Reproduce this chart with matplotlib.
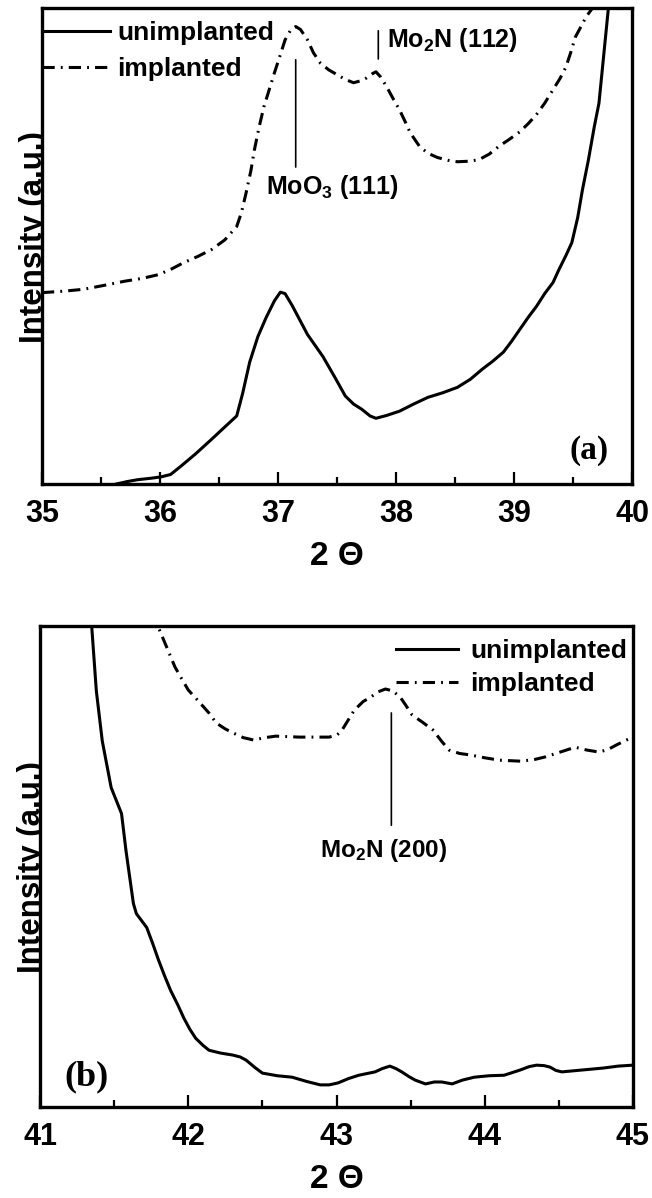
import matplotlib
matplotlib.use('Agg')
import matplotlib.pyplot as plt
from matplotlib.ticker import MultipleLocator

plt.rcParams['font.family'] = ['Liberation Sans', 'DejaVu Sans']
plt.rcParams['mathtext.fontset'] = 'custom'
plt.rcParams['mathtext.rm'] = 'Liberation Sans:bold'
plt.rcParams['mathtext.it'] = 'Liberation Sans:bold'
plt.rcParams['mathtext.bf'] = 'Liberation Sans:bold'

# --- data (intensity in arbitrary units, 0-100 of the frame) ---
# panel (a)
a_unimp_x = [35.63, 35.72, 35.81, 35.92, 36.01, 36.09, 36.18, 36.30, 36.42, 36.55,
             36.65, 36.70, 36.76, 36.83, 36.90, 36.97, 37.02, 37.06, 37.12, 37.25,
             37.38, 37.48, 37.57, 37.64, 37.71, 37.78, 37.83, 37.92, 38.03, 38.15,
             38.27, 38.40, 38.52, 38.63, 38.73, 38.82, 38.91, 38.98, 39.05, 39.12,
             39.19, 39.26, 39.33, 39.38, 39.44, 39.49, 39.54, 39.58, 39.63, 39.68,
             39.72, 39.76, 39.80, 39.81]
a_unimp_y = [0.0, 0.5, 0.9, 1.2, 1.5, 2.0, 3.8, 6.3, 9.0, 12.0,
             14.3, 19.0, 25.6, 31.0, 35.0, 38.5, 40.3, 40.0, 37.5, 31.4,
             26.8, 22.5, 18.5, 16.8, 15.7, 14.3, 13.8, 14.4, 15.3, 16.8,
             18.2, 19.2, 20.3, 22.0, 24.1, 25.8, 27.7, 30.0, 32.5, 35.0,
             37.3, 40.0, 42.3, 45.0, 48.0, 50.7, 56.0, 61.8, 68.0, 75.0,
             80.0, 90.0, 100.0, 103.0]

a_imp_x = [35.00, 35.18, 35.35, 35.52, 35.70, 35.85, 35.99, 36.10, 36.20, 36.32,
           36.44, 36.55, 36.65, 36.69, 36.73, 36.77, 36.80, 36.84, 36.88, 36.93,
           36.97, 37.02, 37.06, 37.11, 37.15, 37.19, 37.25, 37.30, 37.36, 37.43,
           37.50, 37.57, 37.64, 37.70, 37.75, 37.80, 37.83, 37.87, 37.92, 37.97,
           38.03, 38.08, 38.12, 38.20, 38.27, 38.35, 38.44, 38.52, 38.61, 38.70,
           38.79, 38.87, 38.96, 39.05, 39.12, 39.19, 39.26, 39.33, 39.39, 39.44,
           39.48, 39.52, 39.57, 39.61, 39.68, 39.70]
a_imp_y = [40.2, 40.5, 40.9, 41.7, 42.6, 43.2, 44.0, 45.2, 46.5, 47.8,
           49.3, 51.3, 54.1, 57.0, 61.2, 65.8, 70.2, 75.0, 79.2, 83.2,
           86.4, 90.2, 93.3, 95.5, 96.1, 95.5, 93.3, 90.6, 88.4, 87.0,
           86.0, 85.0, 84.3, 84.7, 85.3, 86.2, 86.6, 85.5, 83.5, 81.2,
           78.6, 76.0, 73.8, 70.9, 69.5, 68.6, 68.0, 67.7, 67.8, 68.1,
           69.3, 70.9, 72.4, 74.0, 75.7, 77.6, 80.0, 82.8, 85.2, 87.6,
           90.6, 93.9, 96.2, 98.1, 100.5, 103.0]

# panel (b)
b_unimp_x = [41.34, 41.35, 41.38, 41.42, 41.48, 41.55, 41.58, 41.63, 41.65, 41.72,
             41.76, 41.80, 41.84, 41.88, 41.93, 41.97, 42.01, 42.05, 42.10, 42.14,
             42.22, 42.30, 42.35, 42.39, 42.45, 42.50, 42.60, 42.70, 42.80, 42.89,
             42.95, 43.01, 43.08, 43.15, 43.26, 43.31, 43.36, 43.40, 43.44, 43.49,
             43.53, 43.60, 43.66, 43.71, 43.78, 43.85, 43.93, 44.03, 44.13, 44.24,
             44.30, 44.35, 44.40, 44.44, 44.48, 44.52, 44.59, 44.66, 44.80, 44.90,
             45.00]
b_unimp_y = [103.0, 99.4, 86.5, 76.1, 66.4, 61.0, 53.3, 42.3, 40.2, 37.3,
             34.0, 30.5, 27.3, 24.3, 21.2, 18.5, 16.2, 14.3, 12.8, 11.8,
             11.2, 10.8, 10.4, 9.75, 8.2, 7.05, 6.5, 6.2, 5.3, 4.6,
             4.6, 5.0, 5.9, 6.6, 7.3, 8.0, 8.5, 8.0, 7.3, 6.3,
             5.6, 4.8, 5.2, 5.2, 4.8, 5.6, 6.2, 6.5, 6.6, 7.7,
             8.4, 8.7, 8.6, 8.3, 7.6, 7.3, 7.5, 7.7, 8.1, 8.5,
             8.7]

b_imp_x = [41.78, 41.80, 41.86, 41.91, 41.96, 42.00, 42.08, 42.14, 42.19, 42.25,
           42.30, 42.37, 42.44, 42.52, 42.59, 42.67, 42.75, 42.85, 42.95, 43.00,
           43.03, 43.08, 43.12, 43.18, 43.23, 43.28, 43.33, 43.38, 43.43, 43.47,
           43.51, 43.58, 43.65, 43.71, 43.76, 43.83, 43.90, 44.00, 44.10, 44.24,
           44.33, 44.41, 44.51, 44.61, 44.69, 44.77, 44.83, 44.89, 44.97, 45.00]
b_imp_y = [103.0, 99.6, 95.2, 91.5, 88.8, 86.7, 84.0, 81.9, 79.8, 78.6,
           77.8, 76.8, 76.3, 76.8, 77.1, 77.0, 76.9, 76.9, 76.9, 77.3,
           78.0, 80.5, 82.5, 84.3, 85.2, 86.3, 86.9, 86.5, 85.2, 83.4,
           81.5, 80.0, 78.4, 76.0, 74.2, 73.5, 73.2, 72.6, 72.1, 71.9,
           72.2, 72.8, 73.8, 74.8, 74.2, 73.8, 74.3, 75.3, 76.5, 77.0]

a_ticks = [35, 36, 37, 38, 39, 40]
b_ticks = [41, 42, 43, 44, 45]

DASHDOT = (0, (4, 2, 0.6, 2))
LW = 2.2


def style_axis(ax, xlim, ticks):
    ax.set_xlim(*xlim)
    ax.set_ylim(0, 100)
    ax.set_xticks(ticks)
    ax.xaxis.set_minor_locator(MultipleLocator(0.5))
    ax.set_yticks([])
    for sp in ax.spines.values():
        sp.set_linewidth(2.4)
    ax.tick_params(axis='x', which='major', direction='in', length=8.6, width=1.6,
                   labelsize=22, pad=10.5, top=False)
    ax.tick_params(axis='x', which='minor', direction='in', length=5, width=1.6, top=False)
    for lab in ax.get_xticklabels():
        lab.set_fontweight('bold')
    ax.set_xlabel('2 \u0398', fontsize=24, fontweight='bold', labelpad=9)


fig = plt.figure(figsize=(6.52, 11.98), dpi=100)
line_kw = dict(color='black', lw=LW, solid_joinstyle='round', dash_joinstyle='round')

# ---------- (a) ----------
ax1 = fig.add_axes([42 / 652, 1 - 484 / 1198, 590 / 652, 476 / 1198])
ax1.plot(a_unimp_x, a_unimp_y, label='unimplanted', **line_kw)
ax1.plot(a_imp_x, a_imp_y, linestyle=DASHDOT, label='implanted', **line_kw)
style_axis(ax1, (35, 40), a_ticks)
ax1.legend(loc='upper left', bbox_to_anchor=(0.0, 0.972), frameon=False,
           prop={'size': 19, 'weight': 'bold'}, borderpad=0, borderaxespad=0,
           handlelength=2.58, handletextpad=0.27, labelspacing=0.45)
ax1.annotate('', xy=(37.15, 89.7), xytext=(37.15, 66.0),
             arrowprops=dict(arrowstyle='-', lw=1.2, color='black'))
ax1.text(36.90, 62.4, r'MoO$_3$ (111)', fontsize=18, fontweight='bold', ha='left', va='center')
ax1.annotate('', xy=(37.85, 95.8), xytext=(37.85, 88.7),
             arrowprops=dict(arrowstyle='-', lw=1.2, color='black'))
ax1.text(37.92, 93.3, r'Mo$_2$N (112)', fontsize=18, fontweight='bold', ha='left', va='center')
ax1.text(0.928, 0.070, '(a)', transform=ax1.transAxes, fontsize=24, fontweight='bold',
         family='Liberation Serif', ha='center', va='center')
fig.text(49 / 652, 1 - 237 / 1198, 'Intensity (a.u.)', rotation=90, fontsize=22.5,
         fontweight='bold', ha='right', va='center', zorder=-1)

# ---------- (b) ----------
ax2 = fig.add_axes([40 / 652, 1 - 1107 / 1198, 593 / 652, 481 / 1198])
ax2.plot(b_unimp_x, b_unimp_y, label='unimplanted', **line_kw)
ax2.plot(b_imp_x, b_imp_y, linestyle=DASHDOT, label='implanted', **line_kw)
style_axis(ax2, (41, 45), b_ticks)
ax2.legend(loc='upper right', bbox_to_anchor=(0.99, 0.973), frameon=False,
           prop={'size': 19, 'weight': 'bold'}, borderpad=0, borderaxespad=0,
           handlelength=2.37, handletextpad=0.45, labelspacing=0.36)
ax2.annotate('', xy=(43.37, 82.5), xytext=(43.37, 58.0),
             arrowprops=dict(arrowstyle='-', lw=1.2, color='black'))
ax2.text(43.32, 53.3, r'Mo$_2$N (200)', fontsize=17.5, fontweight='bold', ha='center', va='center')
ax2.text(0.078, 0.062, '(b)', transform=ax2.transAxes, fontsize=26, fontweight='bold',
         family='Liberation Serif', ha='center', va='center')
fig.text(47 / 652, 1 - 867 / 1198, 'Intensity (a.u.)', rotation=90, fontsize=22.5,
         fontweight='bold', ha='right', va='center', zorder=-1)

fig.savefig('out.png', dpi=100)
